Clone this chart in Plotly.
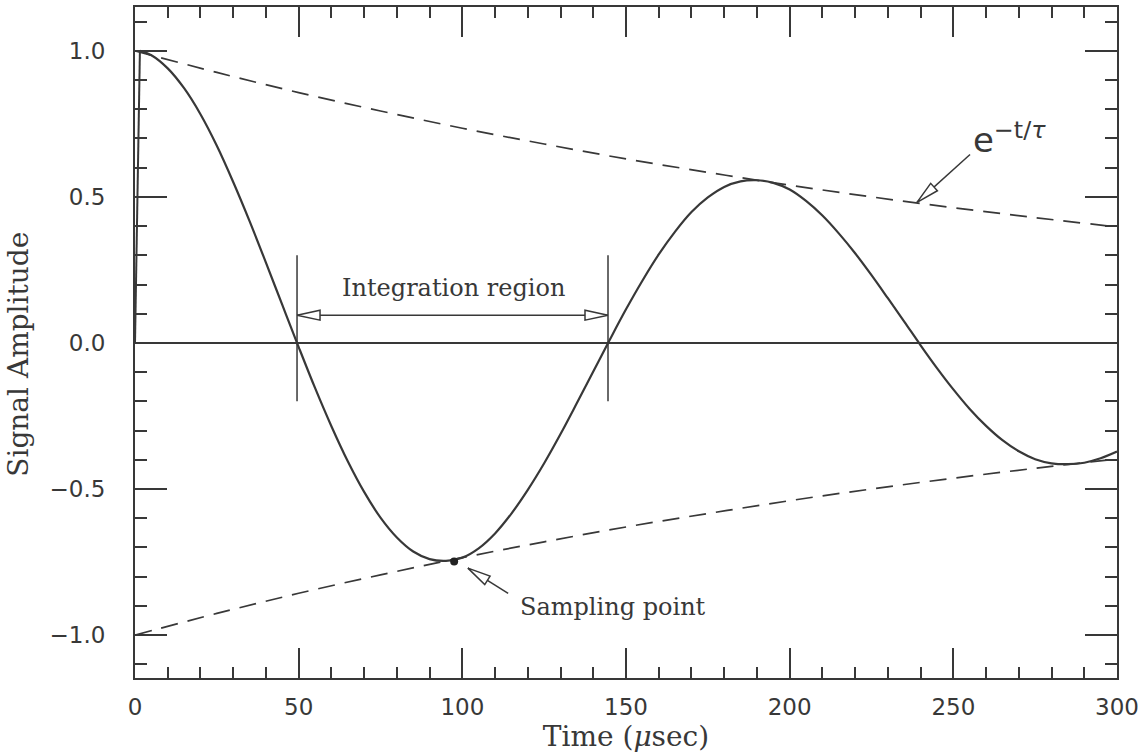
import math
import plotly.graph_objects as go

# ---- data ----
rise_t = [0.0, 1.5]
rise_amp = [0.0, 1.0]

time_us = [1.5, 5, 10, 15, 20, 25, 30, 35, 40, 45, 50, 55, 60, 65, 70, 75, 80, 85, 90, 95,
           100, 105, 110, 115, 120, 125, 130, 135, 140, 145, 150, 155, 160, 165, 170, 175,
           180, 185, 190, 195, 200, 205, 210, 215, 220, 225, 230, 235, 240, 245, 250, 255,
           260, 265, 270, 275, 280, 285, 290, 295, 300]
signal = [1.000, 0.985, 0.940, 0.872, 0.783, 0.675, 0.551, 0.417, 0.275, 0.130, -0.014,
          -0.154, -0.285, -0.405, -0.510, -0.598, -0.666, -0.714, -0.740, -0.746,
          -0.735, -0.703, -0.652, -0.584, -0.503, -0.412, -0.312, -0.206, -0.098, 0.010,
          0.115, 0.213, 0.303, 0.381, 0.448, 0.498, 0.534, 0.553, 0.557, 0.548, 0.525,
          0.486, 0.436, 0.375, 0.307, 0.232, 0.153, 0.073, -0.008, -0.086, -0.159, -0.226,
          -0.284, -0.333, -0.371, -0.398, -0.412, -0.415, -0.410, -0.395, -0.372]

env_t = [0, 25, 50, 75, 100, 125, 150, 175, 200, 225, 250, 275, 300]
envelope = [1.000, 0.926, 0.857, 0.794, 0.735, 0.681, 0.630, 0.584, 0.540, 0.500, 0.463,
            0.429, 0.397]
envelope_neg = [-v for v in envelope]

integ_bounds = [49.5, 144.5]
integ_span = [-0.20, 0.30]
integ_arrow_y = 0.095

sample_t = [97.5]
sample_amp = [-0.748]

# annotation arrows: (tail, tip) in data units
samp_tail, samp_tip = (114.0, -0.857), (101.7, -0.771)
env_tail, env_tip = (255.1, 0.645), (238.9, 0.481)

x_ticks = [0, 50, 100, 150, 200, 250, 300]
y_ticks = [-1.0, -0.5, 0.0, 0.5, 1.0]

X_RANGE = [0, 300]
Y_RANGE = [-1.147, 1.15]
W, H = 1146, 756
MARGIN = dict(l=135, r=29, t=5, b=78)

INK = "#383838"
SERIF = "DejaVu Serif"
SANS = "DejaVu Sans"

# pixel scale of the plot area (used only to shape open arrowheads)
SX = (W - MARGIN["l"] - MARGIN["r"]) / (X_RANGE[1] - X_RANGE[0])
SY = (H - MARGIN["t"] - MARGIN["b"]) / (Y_RANGE[1] - Y_RANGE[0])


def arrowhead(tail, tip, length=23, half_width=5):
    """Open triangular arrowhead with its point at `tip`, aligned tail->tip."""
    dxp = (tip[0] - tail[0]) * SX
    dyp = -(tip[1] - tail[1]) * SY
    n = math.hypot(dxp, dyp)
    ux, uy = dxp / n, dyp / n
    px, py = -uy, ux
    pts = [(0, 0),
           (-length * ux + half_width * px, -length * uy + half_width * py),
           (-length * ux - half_width * px, -length * uy - half_width * py),
           (0, 0)]
    xs = [tip[0] + a / SX for a, b in pts]
    ys = [tip[1] - b / SY for a, b in pts]
    return go.Scatter(x=xs, y=ys, mode="lines", fill="toself", fillcolor="white",
                      line=dict(color=INK, width=1.5), hoverinfo="skip")


fig = go.Figure()

fig.add_trace(go.Scatter(x=env_t, y=envelope, mode="lines", line_shape="spline",
                         line=dict(color=INK, width=1.7, dash="17px,10px"), hoverinfo="skip"))
fig.add_trace(go.Scatter(x=env_t, y=envelope_neg, mode="lines", line_shape="spline",
                         line=dict(color=INK, width=1.7, dash="17px,10px"), hoverinfo="skip"))
fig.add_trace(go.Scatter(x=rise_t, y=rise_amp, mode="lines",
                         line=dict(color=INK, width=2), hoverinfo="skip"))
fig.add_trace(go.Scatter(x=time_us, y=signal, mode="lines", line_shape="spline",
                         line=dict(color=INK, width=2.2), hoverinfo="skip"))
fig.add_trace(go.Scatter(x=sample_t, y=sample_amp, mode="markers",
                         marker=dict(color="#222", size=8, symbol="circle"), hoverinfo="skip"))

# integration region bounds
for xb in integ_bounds:
    fig.add_shape(type="line", x0=xb, x1=xb, y0=integ_span[0], y1=integ_span[1],
                  xref="x", yref="y", line=dict(color=INK, width=1.5))
# double arrow
fig.add_trace(go.Scatter(x=integ_bounds, y=[integ_arrow_y, integ_arrow_y], mode="lines",
                         line=dict(color=INK, width=1.5), hoverinfo="skip"))
fig.add_trace(arrowhead((integ_bounds[1], integ_arrow_y), (integ_bounds[0], integ_arrow_y)))
fig.add_trace(arrowhead((integ_bounds[0], integ_arrow_y), (integ_bounds[1], integ_arrow_y)))

# sampling-point arrow
fig.add_trace(go.Scatter(x=[samp_tail[0], samp_tip[0]], y=[samp_tail[1], samp_tip[1]],
                         mode="lines", line=dict(color=INK, width=1.5), hoverinfo="skip"))
fig.add_trace(arrowhead(samp_tail, samp_tip))

# envelope label arrow
fig.add_trace(go.Scatter(x=[env_tail[0], env_tip[0]], y=[env_tail[1], env_tip[1]],
                         mode="lines", line=dict(color=INK, width=1.5), hoverinfo="skip"))
fig.add_trace(arrowhead(env_tail, env_tip))

fig.add_annotation(x=97.2, y=0.188, text="Integration region", showarrow=False,
                   font=dict(family=SERIF, size=24, color=INK), xanchor="center", yanchor="middle")
fig.add_annotation(x=117.0, y=-0.904, text="Sampling point", showarrow=False,
                   font=dict(family=SERIF, size=24, color=INK), xanchor="left", yanchor="middle")
fig.add_annotation(x=255.5, y=0.70, text="e<sup>−t/<i>τ</i></sup>", showarrow=False,
                   font=dict(family=SANS, size=34, color=INK), xanchor="left", yanchor="middle")

# y-axis title placed as in the reference (slightly below the plot centre)
fig.add_annotation(xref="paper", yref="paper", x=-0.119, y=0.482, text="Signal Amplitude",
                   textangle=-90, showarrow=False, xanchor="center", yanchor="middle",
                   font=dict(family=SERIF, size=28, color=INK))

axis_common = dict(
    ticks="inside", tickwidth=2, tickcolor=INK,
    showline=True, linecolor=INK, linewidth=2, mirror="ticks",
    showgrid=False,
    tickfont=dict(family=SANS, size=23, color=INK),
)

fig.update_xaxes(range=X_RANGE, tickmode="array", tickvals=x_ticks,
                 ticktext=[str(v) for v in x_ticks], ticklen=30,
                 minor=dict(ticks="inside", dtick=10, tick0=0, ticklen=11, tickwidth=1.5,
                            tickcolor=INK),
                 zeroline=False, title_text="Time (<i>μ</i>sec)", title_standoff=2,
                 title_font=dict(family=SERIF, size=28, color=INK),
                 ticklabelstandoff=7, **axis_common)
fig.update_yaxes(range=Y_RANGE, tickmode="array", tickvals=y_ticks,
                 ticktext=[f"{v:.1f}".replace("-", "−") for v in y_ticks], ticklen=32,
                 minor=dict(ticks="inside", dtick=0.1, tick0=0, ticklen=12, tickwidth=1.5,
                            tickcolor=INK),
                 zeroline=True, zerolinecolor=INK, zerolinewidth=1.5,
                 ticklabelstandoff=23, **axis_common)

fig.update_layout(width=W, height=H, showlegend=False, margin=MARGIN,
                  paper_bgcolor="white", plot_bgcolor="white")

fig.write_html("out.html")
